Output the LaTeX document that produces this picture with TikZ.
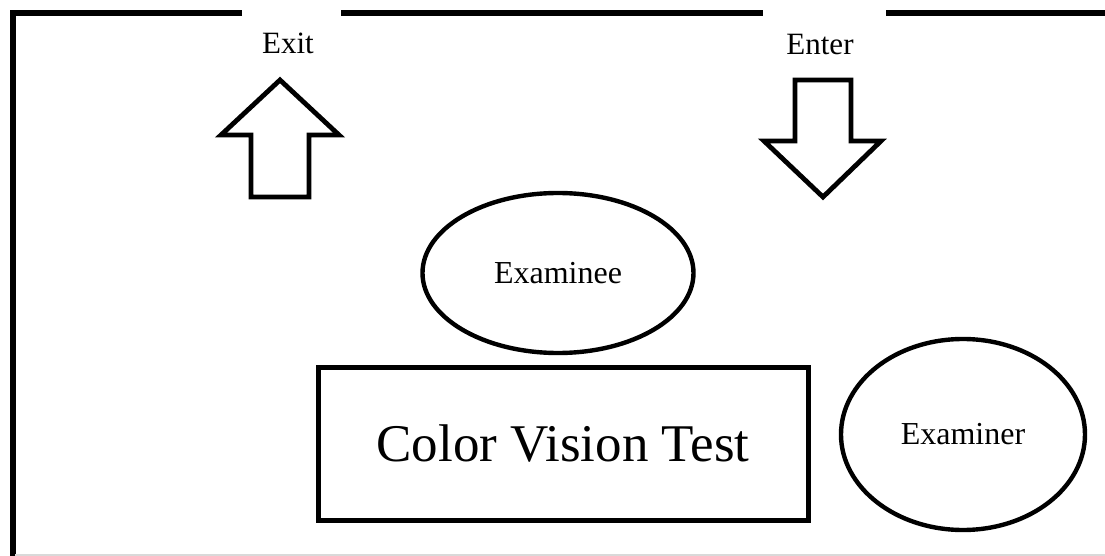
\documentclass[tikz,border=0pt]{standalone}
\usepackage{fontspec}
\setmainfont{Liberation Serif}
\usepackage{xcolor}
\usetikzlibrary{
  positioning,
  shapes.geometric
}
\definecolor{wallBlack}{HTML}{000000}
\definecolor{floorGray}{HTML}{D9D9D9}
\tikzset{
  wall/.style      = {draw=wallBlack, line width=2.6pt, line join=miter},
  floorLine/.style = {draw=floorGray, line width=0.6pt},
  person/.style    = {ellipse, draw=wallBlack, line width=2.2pt, inner sep=0pt,
                      outer sep=0pt, align=center,
                      font=\fontsize{16}{19}\selectfont},
  desk/.style      = {rectangle, draw=wallBlack, line width=2.5pt, inner sep=0pt,
                      outer sep=0pt, align=center,
                      font=\fontsize{26.5}{30}\selectfont},
  doorArrow/.style = {draw=wallBlack, line width=2.4pt, line join=miter},
  doorLabel/.style = {inner sep=0pt, font=\fontsize{15.5}{18}\selectfont}
}

\begin{document}
\begin{tikzpicture}[x=0.5pt, y=-0.5pt]
\useasboundingbox (0,0) rectangle (1105,556);

% walls of the room
\draw[wall] (242,13) -- (13,13) -- (13,556);
\draw[wall] (341,13) -- (763,13);
\draw[wall] (886,13) -- (1105,13);
\draw[floorLine] (15,555) -- (1105,555);

% doors
\node[doorLabel] (exitText)  at (288,43) {Exit};
\node[doorLabel] (enterText) at (820,45) {Enter};
\draw[doorArrow] (280,80) -- (339,135) -- (309,135) -- (309,197)
  -- (251,197) -- (251,135) -- (221,135) -- cycle;
\draw[doorArrow] (795,80) -- (851,80) -- (851,141) -- (881,141)
  -- (823,197) -- (764,141) -- (795,141) -- cycle;

% test set-up
\node[desk, minimum width=245pt, minimum height=76pt] (test) at (563,444)
  {Color Vision Test};
\node[person, minimum width=135.5pt, minimum height=80pt,
      above=7.5pt of test, xshift=-2.5pt] (examinee) {Examinee};
\node[person, minimum width=122pt, minimum height=95.5pt,
      right=16.5pt of test, yshift=4.75pt] (examiner) {Examiner};
\end{tikzpicture}
\end{document}
